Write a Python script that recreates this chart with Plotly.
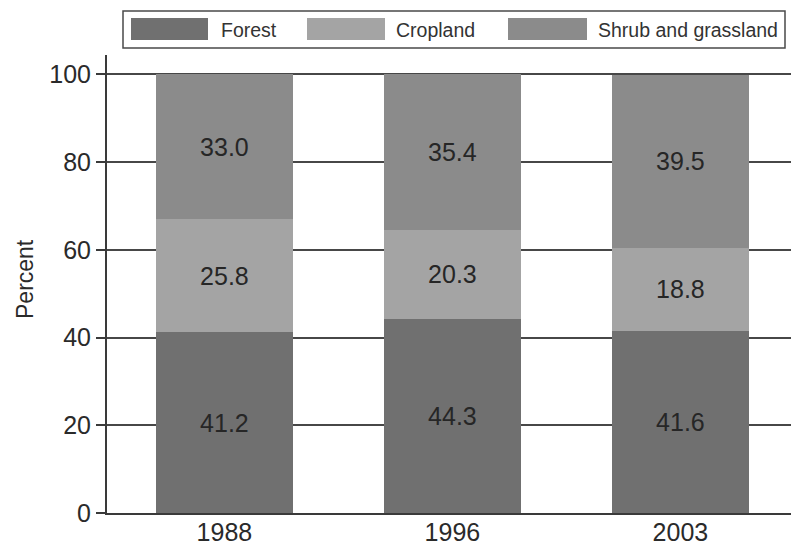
import plotly.graph_objects as go

# Land cover shares by survey year
years = ["1988", "1996", "2003"]
series_names = ["Forest", "Cropland", "Shrub and grassland"]
forest = [41.2, 44.3, 41.6]
cropland = [25.8, 20.3, 18.8]
shrub = [33.0, 35.4, 39.5]
y_ticks = [0, 20, 40, 60, 80, 100]

colors = ["#707070", "#a4a4a4", "#8b8b8b"]
FONT = "Liberation Sans, Arial, Helvetica, sans-serif"

fig = go.Figure()
for name, vals, col in zip(series_names, [forest, cropland, shrub], colors):
    fig.add_trace(go.Bar(
        x=years, y=vals, name=name,
        marker=dict(color=col, line=dict(width=0)),
        texttemplate="%{y:.1f}",
        textposition="inside",
        insidetextanchor="middle",
        textangle=0,
        textfont=dict(family=FONT, size=25, color="#262626"),
        showlegend=False,
    ))

# Plot area geometry in pixels (used to place the hand-built legend)
W, H = 791, 549
L, R, T, B = 107, 0, 55, 36
PW, PH = W - L - R, H - T - B


def px(xp):
    return (xp - L) / PW


def py(yp):
    return (H - B - yp) / PH


shapes = [dict(type="rect", xref="paper", yref="paper",
               x0=px(123), x1=px(785), y0=py(48), y1=py(11),
               line=dict(color="#4a4a4a", width=1.5), fillcolor="white")]
annotations = []
swatch_x = [(131, 208), (307, 385), (508, 587)]
label_x = [219, 394, 596]
for (sx0, sx1), lx, name, col in zip(swatch_x, label_x, series_names, colors):
    shapes.append(dict(type="rect", xref="paper", yref="paper",
                       x0=px(sx0), x1=px(sx1), y0=py(40), y1=py(18),
                       line=dict(width=0), fillcolor=col))
    annotations.append(dict(xref="paper", yref="paper", x=px(lx), y=py(30),
                            text=name, showarrow=False, xanchor="left",
                            yanchor="middle",
                            font=dict(family=FONT, size=19.5, color="#333333")))

annotations.append(dict(xref="paper", yref="paper", x=px(25), y=py(279),
                        text="Percent", textangle=-90, showarrow=False,
                        xanchor="center", yanchor="middle",
                        font=dict(family=FONT, size=23, color="#2a2a2a")))

fig.update_layout(
    width=W, height=H,
    margin=dict(l=L, r=R, t=T, b=B, pad=0),
    barmode="stack",
    bargap=0.4,
    plot_bgcolor="white",
    paper_bgcolor="white",
    font=dict(family=FONT, color="#2a2a2a"),
    shapes=shapes,
    annotations=annotations,
    xaxis=dict(
        type="category",
        range=[-0.515, 2.485],
        showline=True, linecolor="#3a3a3a", linewidth=2,
        ticks="", showgrid=False, automargin=False,
        ticklabelstandoff=-4,
        tickfont=dict(family=FONT, size=25, color="#2a2a2a"),
    ),
    yaxis=dict(
        range=[0, 104.4],
        tickvals=y_ticks,
        showline=True, linecolor="#3a3a3a", linewidth=2,
        ticks="outside", ticklen=9, tickwidth=1.5, tickcolor="#3a3a3a",
        showgrid=True, gridcolor="#474747", gridwidth=1.5,
        zeroline=False, automargin=False,
        tickfont=dict(family=FONT, size=25, color="#2a2a2a"),
    ),
)

fig.write_html("out.html")
